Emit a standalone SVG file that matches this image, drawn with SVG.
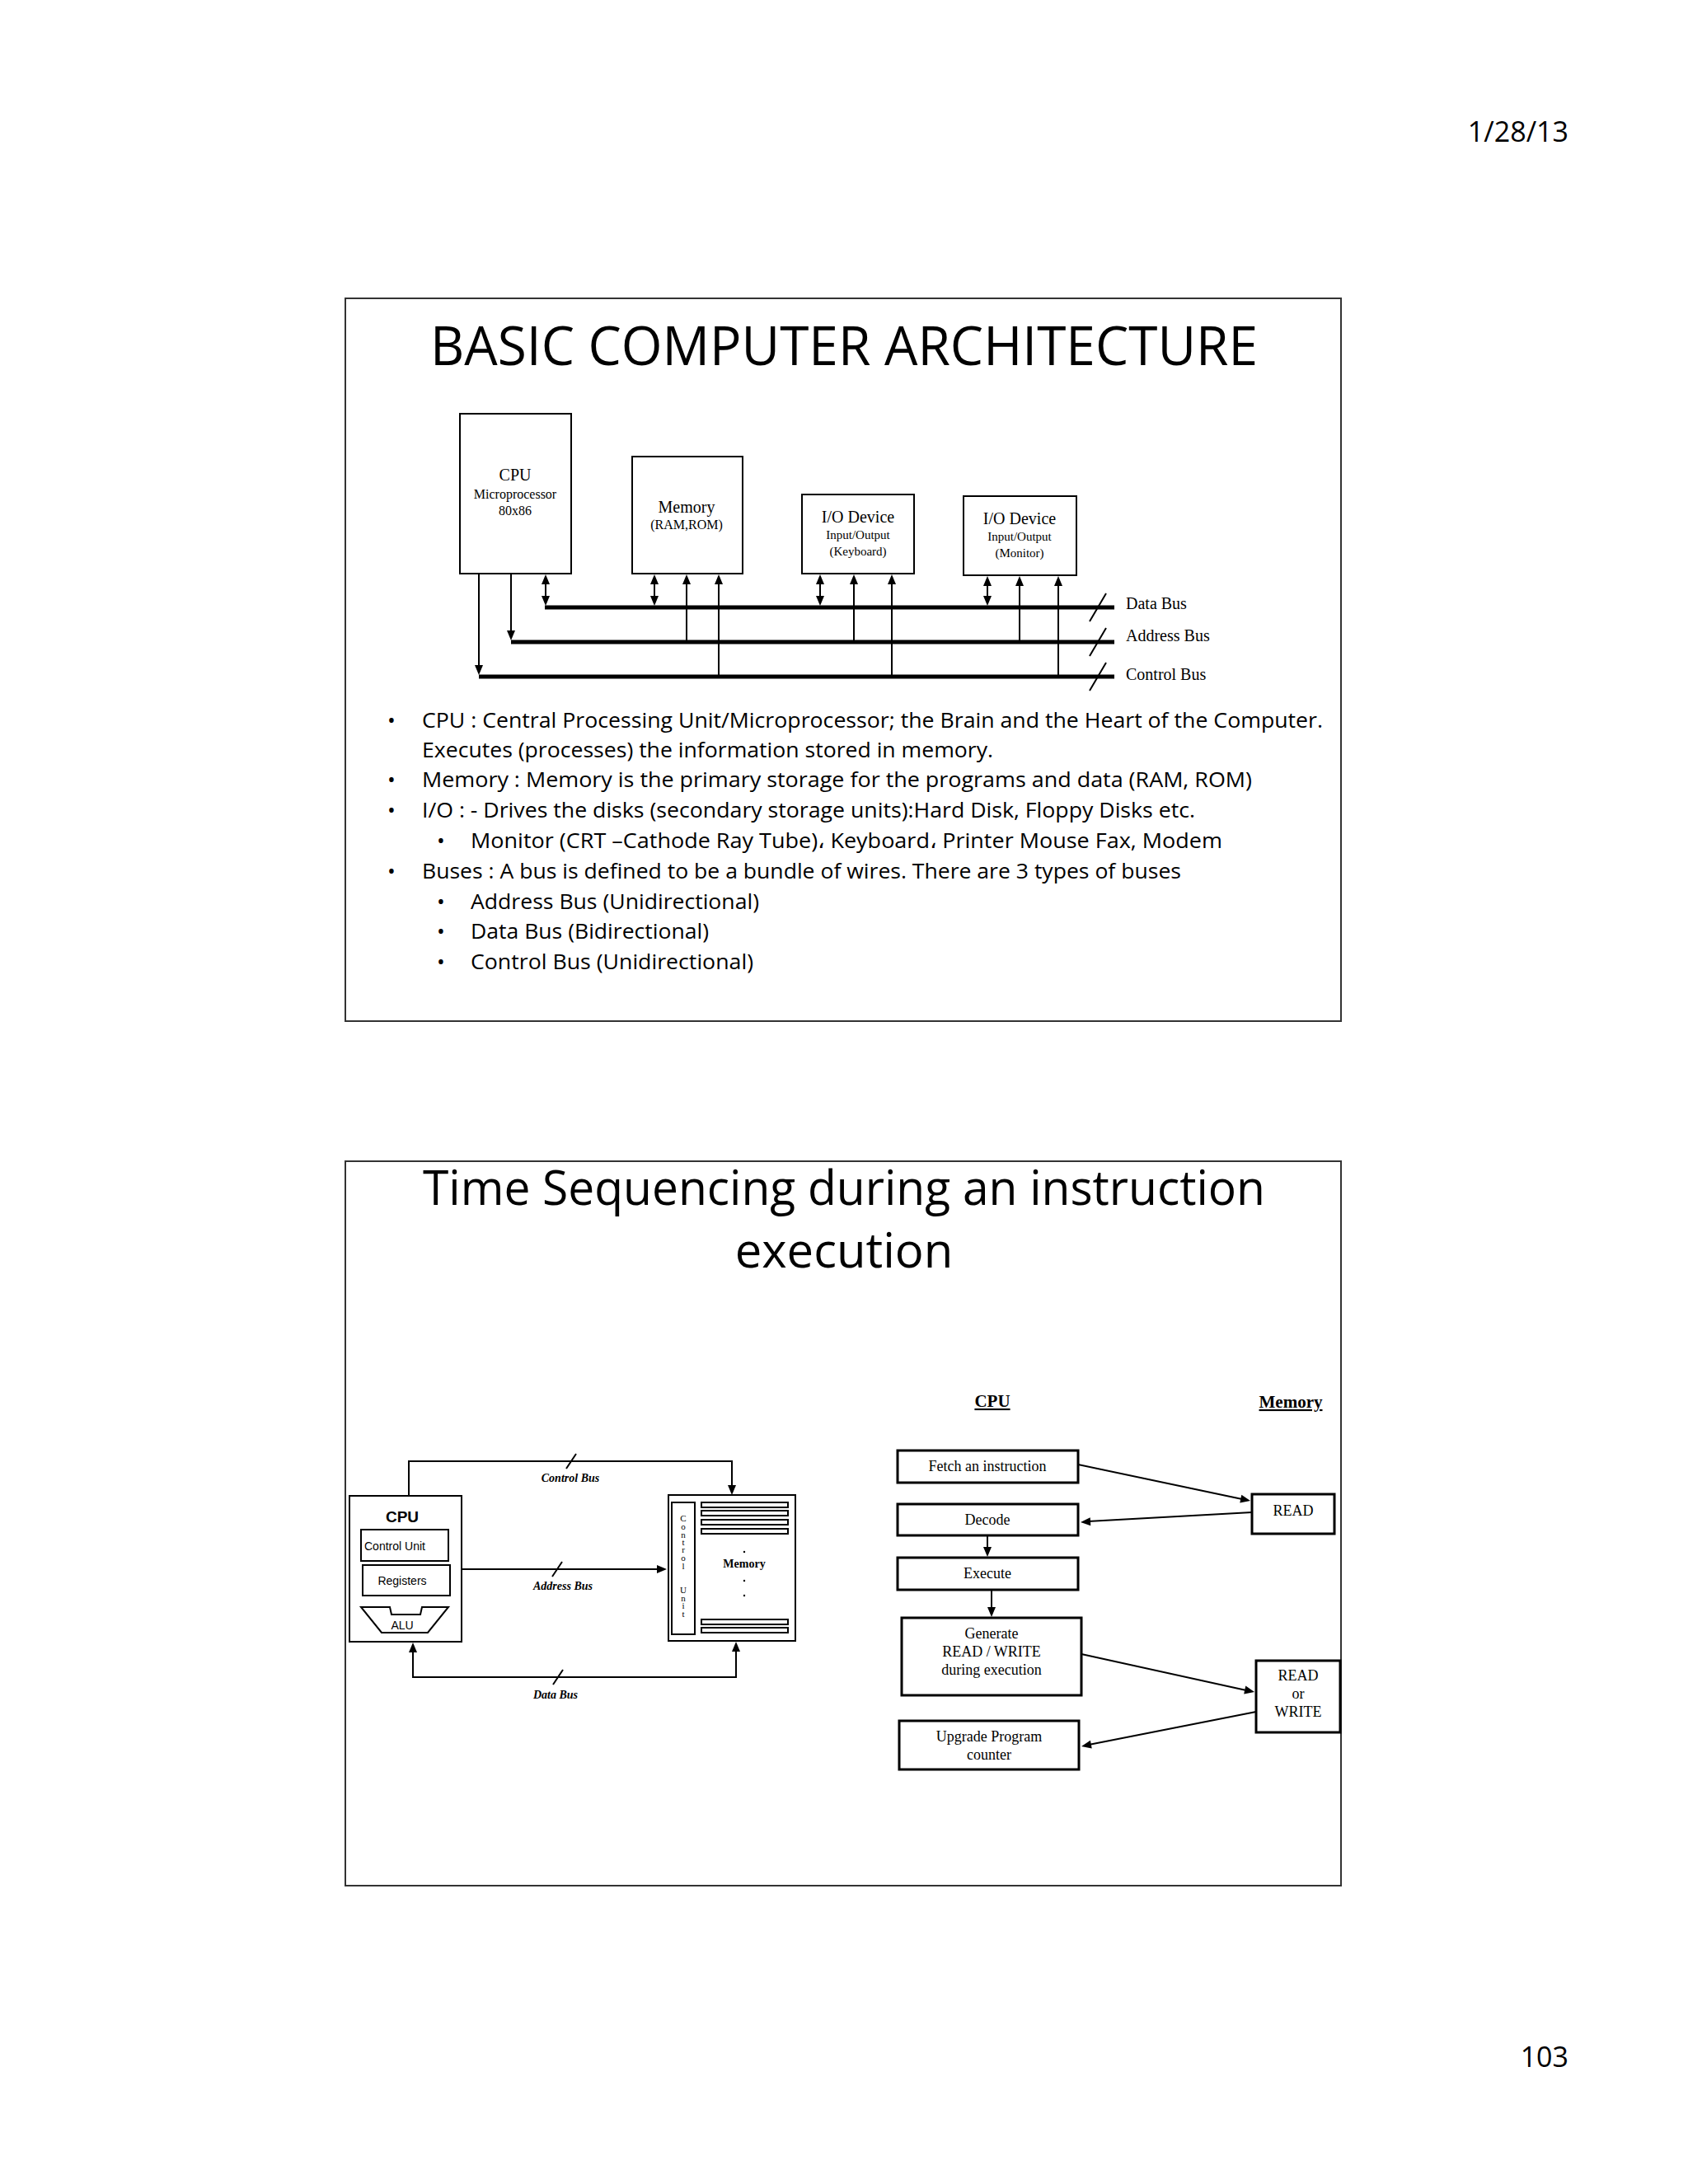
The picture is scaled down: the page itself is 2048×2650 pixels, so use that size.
<svg xmlns="http://www.w3.org/2000/svg" width="2048" height="2650" viewBox="0 0 2048 2650">
<defs>
<style>
.frame{fill:#fff;stroke:#333;stroke-width:2}
.box{fill:#fff;stroke:#000;stroke-width:2}
.box3{fill:#fff;stroke:#000;stroke-width:3}
.ln{stroke:#000;stroke-width:2;fill:none}
.bus{stroke:#000;stroke-width:5}
.ah{fill:#000;stroke:none}
.cal{font-family:"Open Sans","Noto Sans",sans-serif;fill:#000}
.ser{font-family:"Liberation Serif",serif;fill:#000}
.ari{font-family:"Liberation Sans",sans-serif;fill:#000}
.c{text-anchor:middle}
</style>
</defs>
<rect width="2048" height="2650" fill="#fff"/>
<text class="cal" x="1903" y="172" font-size="34" text-anchor="end">1/28/13</text>
<text class="cal" x="1903" y="2508" font-size="34" text-anchor="end">103</text>

<!-- Slide 1 -->
<rect class="frame" x="419" y="362" width="1208" height="877"/>
<text class="cal c" x="1024" y="443" font-size="66" textLength="1004" lengthAdjust="spacingAndGlyphs">BASIC COMPUTER ARCHITECTURE</text>
<g id="cpu1"><rect class="box" x="558" y="502" width="135" height="194"/>
<text class="ser c" x="625" y="583" font-size="20">CPU</text>
<text class="ser c" x="625" y="605" font-size="16">Microprocessor</text>
<text class="ser c" x="625" y="625" font-size="16">80x86</text></g>
<g id="mem1"><rect class="box" x="767" y="554" width="134" height="142"/>
<text class="ser c" x="833" y="622" font-size="20">Memory</text>
<text class="ser c" x="833" y="642" font-size="16">(RAM,ROM)</text></g>
<g id="kbd"><rect class="box" x="973" y="600" width="136" height="96"/>
<text class="ser c" x="1041" y="634" font-size="20">I/O Device</text>
<text class="ser c" x="1041" y="654" font-size="15">Input/Output</text>
<text class="ser c" x="1041" y="674" font-size="15">(Keyboard)</text></g>
<g id="mon"><rect class="box" x="1169" y="602" width="137" height="96"/>
<text class="ser c" x="1237" y="636" font-size="20">I/O Device</text>
<text class="ser c" x="1237" y="656" font-size="15">Input/Output</text>
<text class="ser c" x="1237" y="676" font-size="15">(Monitor)</text></g>
<g id="buses1">
<line class="bus" x1="661" y1="737" x2="1352" y2="737"/>
<line class="bus" x1="620" y1="779" x2="1352" y2="779"/>
<line class="bus" x1="581" y1="821" x2="1352" y2="821"/>
<path class="ln" d="M1322,754 L1342,720 M1322,796 L1342,762 M1322,838 L1342,804"/>
<text class="ser" x="1366" y="739" font-size="20">Data Bus</text>
<text class="ser" x="1366" y="778" font-size="20">Address Bus</text>
<text class="ser" x="1366" y="825" font-size="20">Control Bus</text>
<line class="ln" x1="581" y1="696" x2="581" y2="812"/><polygon class="ah" points="576,807 586,807 581,819"/>
<line class="ln" x1="620" y1="696" x2="620" y2="770"/><polygon class="ah" points="615,765 625,765 620,777"/>
<line class="ln" x1="662" y1="700" x2="662" y2="730"/><polygon class="ah" points="657,709 667,709 662,697"/><polygon class="ah" points="657,723 667,723 662,735"/>
<line class="ln" x1="794" y1="700" x2="794" y2="730"/><polygon class="ah" points="789,709 799,709 794,697"/><polygon class="ah" points="789,723 799,723 794,735"/>
<line class="ln" x1="833" y1="777" x2="833" y2="702"/><polygon class="ah" points="828,709 838,709 833,697"/>
<line class="ln" x1="872" y1="819" x2="872" y2="702"/><polygon class="ah" points="867,709 877,709 872,697"/>
<line class="ln" x1="995" y1="700" x2="995" y2="730"/><polygon class="ah" points="990,709 1000,709 995,697"/><polygon class="ah" points="990,723 1000,723 995,735"/>
<line class="ln" x1="1036" y1="777" x2="1036" y2="702"/><polygon class="ah" points="1031,709 1041,709 1036,697"/>
<line class="ln" x1="1082" y1="819" x2="1082" y2="702"/><polygon class="ah" points="1077,709 1087,709 1082,697"/>
<line class="ln" x1="1198" y1="702" x2="1198" y2="730"/><polygon class="ah" points="1193,711 1203,711 1198,699"/><polygon class="ah" points="1193,723 1203,723 1198,735"/>
<line class="ln" x1="1237" y1="777" x2="1237" y2="704"/><polygon class="ah" points="1232,711 1242,711 1237,699"/>
<line class="ln" x1="1284" y1="819" x2="1284" y2="704"/><polygon class="ah" points="1279,711 1289,711 1284,699"/>
</g>
<g class="cal" font-size="26">
<text x="470" y="883">•</text><text x="512" y="883" textLength="1093" lengthAdjust="spacingAndGlyphs">CPU : Central Processing Unit/Microprocessor; the Brain and the Heart of the Computer.</text>
<text x="512" y="919" textLength="693" lengthAdjust="spacingAndGlyphs">Executes (processes) the information stored in memory.</text>
<text x="470" y="955">•</text><text x="512" y="955" textLength="1007" lengthAdjust="spacingAndGlyphs">Memory : Memory is the primary storage for the programs and data (RAM, ROM)</text>
<text x="470" y="992">•</text><text x="512" y="992" textLength="938" lengthAdjust="spacingAndGlyphs">I/O : - Drives the disks (secondary storage units):Hard Disk, Floppy Disks etc.</text>
<text x="530" y="1029">•</text><text x="571" y="1029" textLength="912" lengthAdjust="spacingAndGlyphs">Monitor (CRT –Cathode Ray Tube)، Keyboard، Printer Mouse Fax, Modem</text>
<text x="470" y="1066">•</text><text x="512" y="1066" textLength="921" lengthAdjust="spacingAndGlyphs">Buses : A bus is defined to be a bundle of wires. There are 3 types of buses</text>
<text x="530" y="1103">•</text><text x="571" y="1103" textLength="350" lengthAdjust="spacingAndGlyphs">Address Bus (Unidirectional)</text>
<text x="530" y="1139">•</text><text x="571" y="1139" textLength="289" lengthAdjust="spacingAndGlyphs">Data Bus (Bidirectional)</text>
<text x="530" y="1176">•</text><text x="571" y="1176" textLength="343" lengthAdjust="spacingAndGlyphs">Control Bus (Unidirectional)</text>
</g>

<!-- Slide 2 -->
<rect class="frame" x="419" y="1409" width="1208" height="879"/>
<text class="cal c" x="1024" y="1462" font-size="58" textLength="1022" lengthAdjust="spacingAndGlyphs">Time Sequencing during an instruction</text>
<text class="cal c" x="1024" y="1538" font-size="58">execution</text>

<g id="cpu2"><rect class="box" x="424" y="1815" width="136" height="177"/>
<text class="ari c" x="488" y="1847" font-size="19" font-weight="bold">CPU</text>
<rect class="box" x="438" y="1856" width="106" height="38"/>
<text class="ari" x="442" y="1881" font-size="14">Control Unit</text>
<rect class="box" x="440" y="1899" width="106" height="37"/>
<text class="ari c" x="488" y="1923" font-size="14">Registers</text>
<path class="ln" d="M438,1950 L473,1950 L475,1959 L510,1959 L512,1950 L544,1950 L519,1981 L463,1981 Z"/>
<text class="ari c" x="488" y="1977" font-size="14">ALU</text></g>

<g id="mem2"><rect class="box" x="811" y="1814" width="154" height="177"/>
<rect class="box" x="815" y="1823" width="28" height="160"/>
<g class="ser c" font-size="11">
<text x="829" y="1846">C</text><text x="829" y="1856">o</text><text x="829" y="1866">n</text><text x="829" y="1875">t</text><text x="829" y="1884">r</text><text x="829" y="1894">o</text><text x="829" y="1904">l</text>
<text x="829" y="1933">U</text><text x="829" y="1943">n</text><text x="829" y="1952">i</text><text x="829" y="1962">t</text></g>
<g fill="#fff" stroke="#000" stroke-width="2">
<rect x="851" y="1823" width="105" height="6"/><rect x="851" y="1833" width="105" height="6"/><rect x="851" y="1844" width="105" height="6"/><rect x="851" y="1855" width="105" height="6"/>
<rect x="851" y="1965" width="105" height="6"/><rect x="851" y="1975" width="105" height="6"/></g>
<text class="ser c" x="903" y="1902" font-size="14" font-weight="bold">Memory</text>
<circle cx="903" cy="1883" r="1.2"/><circle cx="903" cy="1918" r="1.2"/><circle cx="903" cy="1936" r="1.2"/></g>

<g id="buses2">
<path class="ln" d="M496,1815 L496,1773 L888,1773 L888,1804"/><polygon class="ah" points="883,1802 893,1802 888,1814"/>
<path class="ln" d="M560,1904 L800,1904"/><polygon class="ah" points="797,1899 797,1909 809,1904"/>
<path class="ln" d="M501,2003 L501,2035 L893,2035 L893,2002"/><polygon class="ah" points="496,2005 506,2005 501,1993"/><polygon class="ah" points="888,2004 898,2004 893,1992"/>
<path class="ln" d="M687,1782 L699,1764 M670,1913 L682,1895 M671,2044 L683,2026"/>
<text class="ser c" x="692" y="1798" font-size="14" font-style="italic" font-weight="bold">Control Bus</text>
<text class="ser c" x="683" y="1929" font-size="14" font-style="italic" font-weight="bold">Address Bus</text>
<text class="ser c" x="674" y="2061" font-size="14" font-style="italic" font-weight="bold">Data Bus</text>
</g>

<text class="ser c" x="1204" y="1707" font-size="21" font-weight="bold" text-decoration="underline">CPU</text>
<text class="ser c" x="1566" y="1708" font-size="21" font-weight="bold" text-decoration="underline">Memory</text>
<g id="fetch"><rect class="box3" x="1089" y="1760" width="219" height="39"/><text class="ser c" x="1198" y="1785" font-size="18">Fetch an instruction</text></g>
<g id="decode"><rect class="box3" x="1089" y="1825" width="219" height="38"/><text class="ser c" x="1198" y="1850" font-size="18">Decode</text></g>
<g id="execute"><rect class="box3" x="1089" y="1890" width="219" height="39"/><text class="ser c" x="1198" y="1915" font-size="18">Execute</text></g>
<g id="generate"><rect class="box3" x="1094" y="1963" width="218" height="94"/>
<text class="ser c" x="1203" y="1988" font-size="18">Generate</text>
<text class="ser c" x="1203" y="2010" font-size="18">READ / WRITE</text>
<text class="ser c" x="1203" y="2032" font-size="18">during execution</text></g>
<g id="upgrade"><rect class="box3" x="1091" y="2088" width="218" height="59"/>
<text class="ser c" x="1200" y="2113" font-size="18">Upgrade Program</text>
<text class="ser c" x="1200" y="2135" font-size="18">counter</text></g>
<g id="read"><rect class="box3" x="1519" y="1813" width="100" height="48"/><text class="ser c" x="1569" y="1839" font-size="18">READ</text></g>
<g id="rw"><rect class="box3" x="1524" y="2015" width="102" height="87"/>
<text class="ser c" x="1575" y="2039" font-size="18">READ</text>
<text class="ser c" x="1575" y="2061" font-size="18">or</text>
<text class="ser c" x="1575" y="2083" font-size="18">WRITE</text></g>
<g id="conn2">
<line class="ln" x1="1308" y1="1777" x2="1507" y2="1819"/><polygon class="ah" points="1504.3,1823.5 1506.3,1813.7 1517,1821"/>
<line class="ln" x1="1519" y1="1835" x2="1320" y2="1846"/><polygon class="ah" points="1322.7,1841.3 1323.3,1851.3 1311,1847"/>
<line class="ln" x1="1198" y1="1864" x2="1198" y2="1880"/><polygon class="ah" points="1193,1877 1203,1877 1198,1889"/>
<line class="ln" x1="1203" y1="1930" x2="1203" y2="1953"/><polygon class="ah" points="1198,1950 1208,1950 1203,1962"/>
<line class="ln" x1="1312" y1="2007" x2="1512" y2="2051"/><polygon class="ah" points="1509.2,2055.4 1511.3,2045.6 1522,2053"/>
<line class="ln" x1="1524" y1="2077" x2="1321" y2="2117"/><polygon class="ah" points="1322.9,2111.8 1324.7,2121.6 1312,2119"/>
</g>
</svg>
